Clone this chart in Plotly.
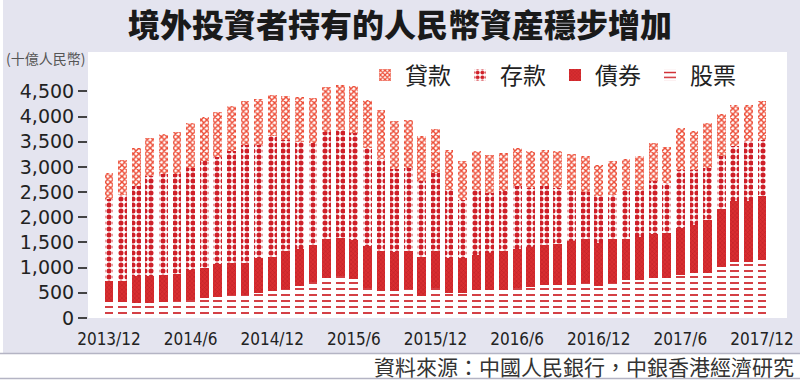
import plotly.graph_objects as go

# Monthly labels 2013/12 .. 2017/12
months = ["2013/12"] + [f"{y}/{m}" for y in (2014, 2015, 2016, 2017) for m in range(1, 13)]
tick_labels = ["2013/12", "2014/6", "2014/12", "2015/6", "2015/12", "2016/6", "2016/12", "2017/6", "2017/12"]

# 十億人民幣
stocks = [320, 310, 300, 300, 320, 330, 350, 397, 425, 453, 463, 490,
          545, 585, 645, 720, 787, 827, 775, 590, 546, 538, 580, 443,
          590, 490, 490, 549, 549, 555, 596, 615, 655, 661, 661, 695,
          628, 700, 745, 760, 785, 794, 860, 900, 893, 1010, 1104, 1104, 1158]
bonds = [407, 417, 533, 528, 530, 546, 602, 596, 643, 632, 635, 701,
         669, 738, 735, 722, 781, 761, 780, 850, 777, 775, 743, 765,
         733, 701, 708, 701, 747, 775, 784, 798, 801, 811, 869, 867,
         861, 865, 820, 845, 875, 886, 935, 953, 1046, 1155, 1212, 1212, 1257]
deposits = [1643, 1721, 1794, 1984, 2015, 1989, 2026, 2117, 2129, 2223, 2343, 2250,
            2392, 2217, 2107, 2033, 2118, 2138, 2118, 1936, 1834, 1646, 1655, 1504,
            1556, 1357, 1138, 1298, 1186, 1185, 1234, 1168, 1158, 1109, 1005, 933,
            927, 884, 983, 943, 1053, 1001, 1136, 1092, 1039, 1058, 1105, 1191, 1125]
loans = [510, 695, 749, 762, 795, 821, 894, 881, 893, 894, 874, 907,
         828, 861, 901, 893, 901, 894, 940, 959, 965, 945, 960, 908,
         874, 794, 788, 774, 761, 761, 762, 728, 728, 728, 721, 728,
         628, 678, 615, 675, 762, 707, 842, 761, 894, 834, 815, 729, 762]

W, H = 800, 380
PL, PR, PT, PB = 88, 787, 52, 318  # plot area in pixels


def px_x(p):
    return (p - PL) / (PR - PL)


def px_y(p):
    return (PB - p) / (PB - PT)


fig = go.Figure()

fig.add_bar(
    x=months, y=stocks, name="股票",
    marker=dict(color="white", line=dict(width=0),
                pattern=dict(shape="-", fgcolor="#cf2a30", bgcolor="white", fgopacity=1,
                             size=6, solidity=0.3)),
)
fig.add_bar(
    x=months, y=bonds, name="債券",
    marker=dict(color="#d3272c", line=dict(width=0),
                pattern=dict(shape="x", fgcolor="#b51b21", bgcolor="#d92e31", fgopacity=1,
                             size=3, solidity=0.25)),
)
fig.add_bar(
    x=months, y=deposits, name="存款",
    marker=dict(color="white", line=dict(width=0),
                pattern=dict(shape=".", fgcolor="#cf1f28", bgcolor="white", fgopacity=1,
                             size=6, solidity=0.55)),
)
fig.add_bar(
    x=months, y=loans, name="貸款",
    marker=dict(color="white", line=dict(width=0),
                pattern=dict(shape="x", fgcolor="#ec4a34", bgcolor="white", fgopacity=1,
                             size=4, solidity=0.6)),
)

shapes = [
    # lavender page background
    dict(type="rect", xref="paper", yref="paper", x0=px_x(3), x1=px_x(W), y0=px_y(353), y1=px_y(0),
         fillcolor="#e4e4ef", line=dict(width=0), layer="below"),
    # white plot area
    dict(type="rect", xref="paper", yref="paper", x0=0, x1=1, y0=0, y1=1,
         fillcolor="white", line=dict(width=0), layer="below"),
    dict(type="line", xref="paper", yref="paper", x0=px_x(0), x1=px_x(W), y0=px_y(353.5), y1=px_y(353.5),
         line=dict(color="#b4b4c4", width=1.5)),
    dict(type="line", xref="paper", yref="paper", x0=px_x(0), x1=px_x(W), y0=px_y(378.5), y1=px_y(378.5),
         line=dict(color="#b4b4c4", width=1.5)),
]

annotations = [
    dict(text="(十億人民幣)", xref="paper", yref="paper", x=px_x(4), y=px_y(58),
         xanchor="left", yanchor="middle", showarrow=False,
         font=dict(family="Noto Sans CJK TC", size=14, color="#555555")),
    dict(text="資料來源：中國人民銀行，中銀香港經濟研究", xref="paper", yref="paper",
         x=px_x(795), y=px_y(365.5), xanchor="right", yanchor="middle", showarrow=False,
         borderpad=0,
         font=dict(family="Noto Sans CJK TC", size=21, color="#333333")),
]

fig.update_layout(
    width=W, height=H,
    margin=dict(l=PL, r=W - PR, t=PT, b=H - PB, pad=0, autoexpand=False),
    paper_bgcolor="white",
    plot_bgcolor="rgba(0,0,0,0)",
    barmode="stack",
    bargap=0.35,
    title=dict(text="境外投資者持有的人民幣資産穩步增加", x=0.5, xanchor="center",
               y=1 - 26 / H, yanchor="middle", automargin=False,
               font=dict(family="Noto Sans CJK TC", size=32, color="#1a1a1a", weight=900)),
    legend=dict(orientation="h", x=px_x(365), y=px_y(75), xanchor="left", yanchor="middle",
                traceorder="reversed", bgcolor="rgba(0,0,0,0)",
                font=dict(family="Noto Sans CJK TC", size=23, color="#222222"),
                itemwidth=30, entrywidth=50, entrywidthmode="pixels"),
    xaxis=dict(type="category", categoryorder="array", categoryarray=months, automargin=False,
               range=[-1.54, 49.84], tickmode="array", tickvals=tick_labels, ticktext=tick_labels,
               showgrid=False, zeroline=False, showline=False, ticks="", ticklabelstandoff=9,
               tickfont=dict(family="DejaVu Sans Condensed, DejaVu Sans", size=17, color="#222222")),
    yaxis=dict(range=[0, 5283], automargin=False,
               tickmode="array", tickvals=[0, 500, 1000, 1500, 2000, 2500, 3000, 3500, 4000, 4500],
               tickformat=",d", showgrid=False, zeroline=False, showline=False,
               ticks="outside", ticklen=9, tickwidth=1.5, tickcolor="#444444",
               tickfont=dict(family="DejaVu Sans", size=19, color="#222222")),
    shapes=shapes,
    annotations=annotations,
    showlegend=True,
)

fig.write_html("out.html", config={"displayModeBar": False},
               post_script="document.body.style.margin='0';")
